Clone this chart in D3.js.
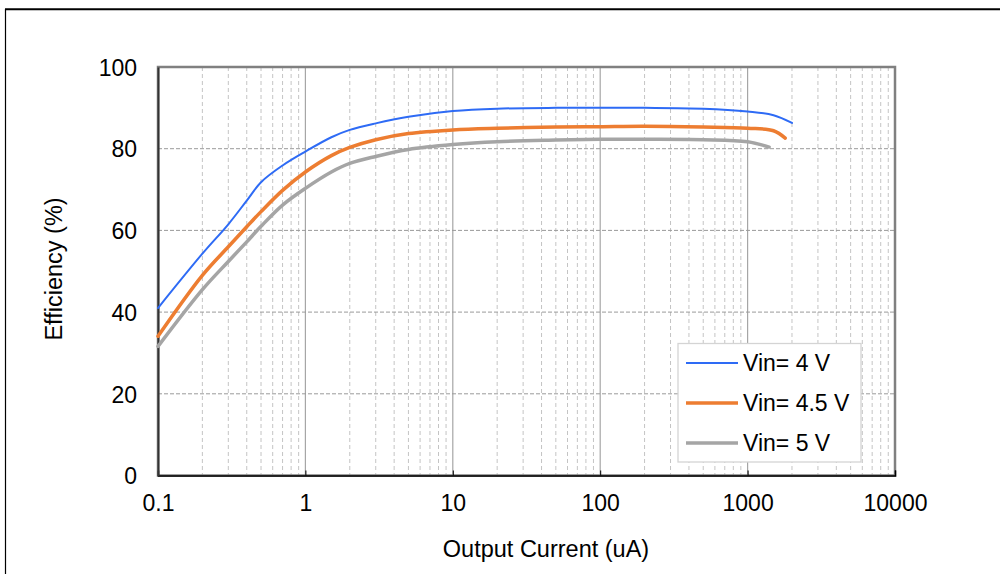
<!doctype html>
<html>
  <head>
    <style>
      body { margin: 0; background: #fff; }
      text { font-family: 'Liberation Sans', Arial, sans-serif; fill: #000; }
    </style>
  </head>
  <body>
    <svg width="1000" height="574" id="content"></svg>

    <script src="https://cdnjs.cloudflare.com/ajax/libs/d3/7.8.5/d3.min.js"></script>
    <script>
      // values
      const seriesNames = ['Vin= 4 V', 'Vin= 4.5 V', 'Vin= 5 V']
      const seriesColors = ['#2e6bf5', '#ed7d31', '#a5a5a5']
      const seriesWidths = [2, 3.5, 3.5]

      const current4V = [0.1, 0.2, 0.3, 0.4, 0.5, 0.7, 1, 1.5, 2, 3, 5, 10, 20, 50, 100, 200, 500, 1000, 1500, 2000]
      const eff4V = [41.0, 54.3, 61.5, 67.3, 71.8, 75.9, 79.3, 82.8, 84.6, 86.2, 87.8, 89.2, 89.8, 90.0, 90.0, 90.0, 89.8, 89.1, 88.2, 86.3]

      const current45V = [0.1, 0.2, 0.3, 0.4, 0.5, 0.7, 1, 1.5, 2, 3, 5, 10, 20, 50, 100, 200, 500, 1000, 1500, 1800]
      const eff45V = [34.1, 49.0, 56.0, 60.9, 64.6, 69.8, 74.3, 78.3, 80.3, 82.2, 83.7, 84.6, 85.0, 85.3, 85.4, 85.5, 85.3, 85.0, 84.4, 82.6]

      const current5V = [0.1, 0.2, 0.3, 0.4, 0.5, 0.7, 1, 1.5, 2, 3, 5, 10, 20, 50, 100, 200, 500, 1000, 1400]
      const eff5V = [31.6, 45.5, 52.4, 57.2, 61.0, 66.2, 70.3, 74.3, 76.4, 78.1, 79.8, 81.0, 81.7, 82.1, 82.3, 82.3, 82.2, 81.7, 80.4]

      const xTicks = [0.1, 1, 10, 100, 1000, 10000]
      const yTicks = [0, 20, 40, 60, 80, 100]

      const series = [
        { name: seriesNames[0], x: current4V, y: eff4V },
        { name: seriesNames[1], x: current45V, y: eff45V },
        { name: seriesNames[2], x: current5V, y: eff5V }
      ]

      const svg = d3.select('#content')
      const plot = { left: 158, top: 67, right: 895, bottom: 475.5 }

      // outer frame of the original figure
      svg.append('line')
        .attr('x1', 5).attr('x2', 1000).attr('y1', 9.3).attr('y2', 9.3)
        .style('stroke', '#000').style('stroke-width', 2)
      svg.append('line')
        .attr('x1', 5.5).attr('x2', 5.5).attr('y1', 9).attr('y2', 574)
        .style('stroke', '#000').style('stroke-width', 1.2)

      const x = d3.scaleLog().domain([0.1, 10000]).range([plot.left, plot.right])
      const y = d3.scaleLinear().domain([0, 100]).range([plot.bottom, plot.top])

      // minor vertical gridlines
      const minor = []
      for (let d = 0.1; d < 10000; d *= 10) {
        for (let k = 2; k <= 9; k++) minor.push(d * k)
      }
      svg.append('g').selectAll('line').data(minor).join('line')
        .attr('x1', d => x(d)).attr('x2', d => x(d))
        .attr('y1', plot.top).attr('y2', plot.bottom)
        .style('stroke', '#c4c4c4').style('stroke-width', 1)
        .style('stroke-dasharray', '4,3')

      // major vertical gridlines
      svg.append('g').selectAll('line').data(xTicks.slice(1, -1)).join('line')
        .attr('x1', d => x(d)).attr('x2', d => x(d))
        .attr('y1', plot.top).attr('y2', plot.bottom)
        .style('stroke', '#a6a6a6').style('stroke-width', 1.2)

      // horizontal gridlines
      svg.append('g').selectAll('line').data(yTicks.slice(1, -1)).join('line')
        .attr('x1', plot.left).attr('x2', plot.right)
        .attr('y1', d => y(d)).attr('y2', d => y(d))
        .style('stroke', '#9a9a9a').style('stroke-width', 1)
        .style('stroke-dasharray', '4,2')

      // plot frame
      svg.append('rect')
        .attr('x', plot.left).attr('y', plot.top)
        .attr('width', plot.right - plot.left).attr('height', plot.bottom - plot.top)
        .style('fill', 'none').style('stroke', '#808080').style('stroke-width', 2.5)

      // axes (ticks drawn inward, labels handled separately)
      const xAxis = svg.append('g')
        .attr('transform', `translate(0,${plot.bottom})`)
        .call(d3.axisBottom(x).tickValues(xTicks).tickSize(-5).tickFormat(d3.format('')))
      xAxis.select('.domain').style('stroke', '#000').style('stroke-width', 1.5)
      xAxis.selectAll('.tick line').style('stroke', '#000')
      xAxis.selectAll('.tick text')
        .attr('y', 0).attr('dy', null)
        .attr('transform', 'translate(0,35)')
        .style('font-size', '23px')
        .text(d => d < 1 ? '0.1' : d)

      const yAxis = svg.append('g')
        .attr('transform', `translate(${plot.left},0)`)
        .call(d3.axisLeft(y).tickValues(yTicks).tickSize(0).tickPadding(21))
      yAxis.select('.domain').style('stroke', '#333').style('stroke-width', 2)
      yAxis.selectAll('.tick text')
        .style('font-size', '23px')
        .attr('dy', '0.36em')

      svg.selectAll('.tick text').style('font-family', "'Liberation Sans', Arial, sans-serif").style('fill', '#000')

      // curves
      const line = d3.line()
        .x(d => x(d[0]))
        .y(d => y(d[1]))
        .curve(d3.curveCatmullRom.alpha(0.5))

      svg.append('g').selectAll('path').data(series).join('path')
        .attr('d', s => line(s.x.map((v, i) => [v, s.y[i]])))
        .style('fill', 'none')
        .style('stroke', (s, i) => seriesColors[i])
        .style('stroke-width', (s, i) => seriesWidths[i])
        .style('stroke-linecap', 'round')
        .style('stroke-linejoin', 'round')

      // axis titles
      svg.append('text')
        .attr('x', 546).attr('y', 557)
        .attr('text-anchor', 'middle')
        .style('font-size', '23.5px')
        .text('Output Current (uA)')

      svg.append('text')
        .attr('transform', 'translate(62,269) rotate(-90)')
        .attr('text-anchor', 'middle')
        .style('font-size', '23.5px')
        .text('Efficiency (%)')

      // legend
      const legend = svg.append('g')
      legend.append('rect')
        .attr('x', 678).attr('y', 343.5)
        .attr('width', 183).attr('height', 118.5)
        .style('fill', '#fff').style('stroke', '#d4d4d4').style('stroke-width', 1.3)

      const rows = legend.selectAll('g.row').data(seriesNames).join('g')
        .attr('class', 'row')
        .attr('transform', (d, i) => `translate(0,${363 + i * 40})`)
      rows.append('line')
        .attr('x1', 686).attr('x2', 738)
        .attr('y1', 0).attr('y2', 0)
        .style('stroke', (d, i) => seriesColors[i])
        .style('stroke-width', (d, i) => seriesWidths[i])
      rows.append('text')
        .attr('x', 743).attr('y', 8)
        .style('font-size', '23px')
        .text(d => d)
    </script>
  </body>
</html>
